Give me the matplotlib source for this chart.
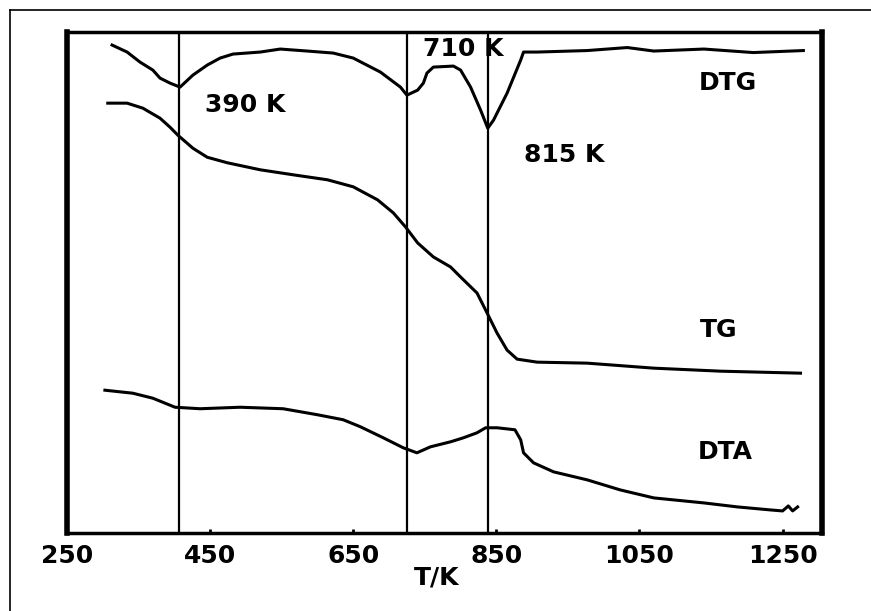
"""
Thermal analysis curves (DTG, TG, DTA) against temperature.
"""

import matplotlib
matplotlib.use('Agg')
import matplotlib.pyplot as plt
import matplotlib.transforms as mtransforms
from matplotlib.lines import Line2D

# --------------------------------------------------------
# Data (arbitrary signal units, 0-100)
# --------------------------------------------------------

dtg_T = [313, 334, 352, 370, 380, 394, 408, 426, 446, 464, 482, 520, 548, 586,
         622, 650, 688, 716, 725, 740, 748, 753, 762, 790, 800, 814, 828, 838,
         846, 865, 884, 888, 907, 977, 1033, 1070, 1140, 1209, 1279]
dtg_y = [97.4, 96.0, 94.0, 92.4, 90.8, 89.8, 89.0, 91.4, 93.4, 94.8, 95.6, 96.0,
         96.6, 96.2, 95.8, 94.8, 92.0, 89.0, 87.4, 88.4, 89.8, 91.8, 93.0, 93.2,
         92.4, 89.0, 84.4, 80.8, 82.4, 87.8, 94.4, 96.0, 96.0, 96.3, 96.9, 96.2,
         96.6, 95.9, 96.3]

tg_T = [307, 334, 356, 380, 394, 405, 426, 446, 474, 520, 566, 614, 650, 684,
        706, 723, 740, 762, 786, 800, 823, 835, 851, 865, 879, 907, 977, 1070,
        1163, 1275]
tg_y = [85.8, 85.8, 84.8, 82.8, 81.0, 79.4, 76.8, 75.0, 73.9, 72.5, 71.5, 70.5,
        69.1, 66.5, 63.9, 61.1, 57.9, 55.1, 53.1, 51.1, 47.9, 44.5, 39.9, 36.5,
        34.7, 34.1, 33.9, 32.9, 32.3, 31.9]

dta_T = [303, 342, 370, 401, 436, 492, 552, 600, 636, 660, 692, 720, 739, 758,
         786, 804, 823, 835, 851, 876, 884, 888, 902, 930, 977, 1023, 1070, 1140,
         1187, 1233, 1250, 1258, 1264, 1271]
dta_y = [28.5, 27.9, 26.9, 25.1, 24.8, 25.1, 24.8, 23.6, 22.6, 21.2, 19.0, 17.0,
         16.0, 17.2, 18.2, 19.0, 20.0, 21.0, 21.0, 20.6, 18.6, 16.0, 14.0, 12.2,
         10.6, 8.6, 7.0, 6.0, 5.2, 4.6, 4.4, 5.4, 4.4, 5.2]

peak_lines = [407, 725, 838]
x_ticks = [250, 450, 650, 850, 1050, 1250]

# --------------------------------------------------------
# Plot
# --------------------------------------------------------

plt.rcParams['font.family'] = ['DejaVu Sans']
fs = 18

fig = plt.figure(figsize=(8.71, 6.11), dpi=100)
ax = fig.add_axes([0.0769, 0.1277, 0.8668, 0.8199])

# outer frame of the scanned figure
fig.add_artist(Line2D([10 / 871, 10 / 871], [0, 1 - 10 / 611], color='black', lw=1.2))
fig.add_artist(Line2D([10 / 871, 1], [1 - 10 / 611, 1 - 10 / 611], color='black', lw=1.2))

for xv in peak_lines:
    ax.axvline(xv, color='black', lw=1.6)

ax.plot(dtg_T, dtg_y, color='black', lw=2.2)
ax.plot(tg_T, tg_y, color='black', lw=2.2)
ax.plot(dta_T, dta_y, color='black', lw=2.2)

ax.set_xlim(250, 1305)
ax.set_ylim(0, 100)
ax.set_xticks(x_ticks)
ax.set_xticklabels([str(t) for t in x_ticks], fontsize=fs, fontweight='bold')
ax.set_yticks([])
ax.tick_params(axis='x', direction='in', length=3, width=2, pad=8)

ax.spines['left'].set_linewidth(4)
ax.spines['right'].set_linewidth(4)
ax.spines['top'].set_linewidth(2.5)
ax.spines['bottom'].set_linewidth(2.5)

lbl = dict(fontsize=fs, fontweight='bold', ha='center', va='center')
ax.text(499, 85.4, '390 K', **lbl)
ax.text(804, 96.7, '710 K', **lbl)
ax.text(945, 75.4, '815 K', **lbl)
ax.text(1174, 89.8, 'DTG', **lbl)
ax.text(1160, 40.5, 'TG', **lbl)
ax.text(1170, 16.2, 'DTA', **lbl)

trans = mtransforms.blended_transform_factory(ax.transData, ax.transAxes)
ax.text(767, -0.088, 'T/K', transform=trans, **lbl)

fig.savefig('out.png', dpi=100)
